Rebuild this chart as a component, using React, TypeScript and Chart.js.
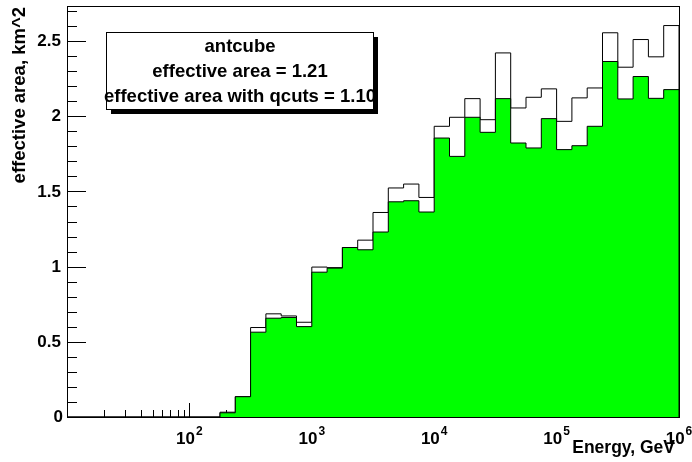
import React, { useEffect, useRef } from "react";
import { Chart, registerables } from "chart.js";

Chart.register(...registerables);

// bin edges (log10 of energy in GeV)
const LOG_EDGES = [
  2.25, 2.375, 2.5, 2.625, 2.75, 2.875, 3, 3.125, 3.25, 3.375, 3.5, 3.625, 3.75, 3.875,
  4, 4.125, 4.25, 4.375, 4.5, 4.625, 4.75, 4.875, 5, 5.125, 5.25, 5.375, 5.5, 5.625,
  5.75, 5.875, 6,
];

// effective area (km^2), all events
const TOTAL_AREA = [
  0.032, 0.135, 0.595, 0.686, 0.672, 0.63, 0.997, 0.993, 1.127, 1.176, 1.36, 1.523, 1.549,
  1.46, 1.933, 1.993, 2.117, 1.977, 2.421, 2.055, 2.126, 2.182, 1.966, 2.122, 2.188, 2.555,
  2.326, 2.51, 2.395, 2.603,
];

// effective area (km^2), with quality cuts
const QCUT_AREA = [
  0.028, 0.135, 0.564, 0.657, 0.662, 0.601, 0.963, 0.99, 1.127, 1.112, 1.23, 1.431, 1.438,
  1.363, 1.855, 1.733, 1.993, 1.893, 2.117, 1.822, 1.789, 1.984, 1.778, 1.804, 1.933, 2.364,
  2.115, 2.264, 2.119, 2.177,
];

const X_MIN = 10;
const X_MAX = 1e6;
const Y_MAX = 2.733;
const X_DECADES = [2, 3, 4, 5, 6];
const Y_MAJOR = [0, 0.5, 1, 1.5, 2, 2.5];
const Y_LABELS = ["0", "0.5", "1", "1.5", "2", "2.5"];
const Y_MINOR = [
  0.1, 0.2, 0.3, 0.4, 0.6, 0.7, 0.8, 0.9, 1.1, 1.2, 1.3, 1.4, 1.6, 1.7, 1.8, 1.9, 2.1, 2.2,
  2.3, 2.4, 2.6, 2.7,
];
const LEGEND_LINES = ["antcube", "effective area = 1.21", "effective area with qcuts = 1.10"];
const X_TITLE = "Energy, GeV";
const Y_TITLE = "effective area, km^2";

const FONT = '"Liberation Sans", Arial, sans-serif';

function histPoints(vals: number[]) {
  const pts: { x: number; y: number }[] = [{ x: X_MIN, y: 0 }];
  for (let i = 0; i < vals.length; i++) pts.push({ x: Math.pow(10, LOG_EDGES[i]), y: vals[i] });
  const last = vals[vals.length - 1];
  pts.push({ x: Math.pow(10, LOG_EDGES[LOG_EDGES.length - 1]), y: last });
  pts.push({ x: Math.pow(10, LOG_EDGES[LOG_EDGES.length - 1]), y: 0 });
  return pts;
}

const rootPlugin = {
  id: "rootStyle",
  beforeDatasetsDraw(chart: any) {
    const ctx = chart.ctx;
    const { left, bottom } = chart.chartArea;
    const xs = chart.scales.x;
    const ys = chart.scales.y;
    ctx.save();
    ctx.strokeStyle = "#000";
    ctx.lineWidth = 1;
    ctx.beginPath();
    // y ticks
    for (const v of Y_MAJOR) {
      const y = Math.round(ys.getPixelForValue(v)) + 0.5;
      ctx.moveTo(left, y);
      ctx.lineTo(left + 19, y);
    }
    for (const v of Y_MINOR) {
      const y = Math.round(ys.getPixelForValue(v)) + 0.5;
      ctx.moveTo(left, y);
      ctx.lineTo(left + 10, y);
    }
    // x ticks (log)
    for (let d = 1; d <= 5; d++) {
      for (let m = 2; m <= 10; m++) {
        const val = m * Math.pow(10, d);
        if (val >= X_MAX) continue;
        const x = Math.round(xs.getPixelForValue(val)) + 0.5;
        const len = m === 10 ? 14 : 7;
        ctx.moveTo(x, bottom);
        ctx.lineTo(x, bottom - len);
      }
    }
    ctx.stroke();
    ctx.restore();
  },
  afterDatasetsDraw(chart: any) {
    const ctx = chart.ctx;
    const { left, right, top, bottom } = chart.chartArea;
    ctx.save();
    ctx.strokeStyle = "#000";
    ctx.lineWidth = 1;
    ctx.strokeRect(left + 0.5, top + 0.5, right - left, bottom - top);
    ctx.restore();
  },
  afterDraw(chart: any) {
    const ctx = chart.ctx;
    const { left, bottom, right } = chart.chartArea;
    const xs = chart.scales.x;
    const ys = chart.scales.y;
    ctx.save();
    ctx.fillStyle = "#000";
    // y labels
    ctx.font = `bold 17px ${FONT}`;
    ctx.textAlign = "right";
    ctx.textBaseline = "middle";
    Y_MAJOR.forEach((v, i) => {
      const y = ys.getPixelForValue(v) + 0.5;
      const xr = v === 0 ? left - 4 : left - 6;
      ctx.fillText(Y_LABELS[i], xr, y);
    });
    // x labels 10^n
    ctx.textBaseline = "alphabetic";
    ctx.textAlign = "left";
    for (const d of X_DECADES) {
      const x = xs.getPixelForValue(Math.pow(10, d));
      ctx.font = `bold 17px ${FONT}`;
      const w1 = ctx.measureText("10").width;
      ctx.font = `bold 12px ${FONT}`;
      const w2 = ctx.measureText(String(d)).width;
      const total = w1 + 1 + w2;
      const x0 = x - total / 2;
      ctx.font = `bold 17px ${FONT}`;
      ctx.fillText("10", x0, 444);
      ctx.font = `bold 12px ${FONT}`;
      ctx.fillText(String(d), x0 + w1 + 1, 435);
    }
    // x title
    ctx.font = `bold 17.5px ${FONT}`;
    ctx.textAlign = "right";
    ctx.fillText(X_TITLE, right - 4, 453);
    // y title
    ctx.save();
    ctx.translate(25, 7);
    ctx.rotate(-Math.PI / 2);
    ctx.font = `bold 18.5px ${FONT}`;
    ctx.textAlign = "right";
    ctx.textBaseline = "alphabetic";
    ctx.fillText(Y_TITLE, 0, 0);
    ctx.restore();
    // legend box
    const bx = 106, by = 32, bw = 267, bh = 77;
    ctx.fillStyle = "#000";
    ctx.fillRect(bx + 5, by + 5, bw, bh);
    ctx.fillStyle = "#fff";
    ctx.fillRect(bx, by, bw, bh);
    ctx.strokeStyle = "#000";
    ctx.lineWidth = 1;
    ctx.strokeRect(bx + 0.5, by + 0.5, bw, bh);
    ctx.fillStyle = "#000";
    ctx.font = `bold 18.5px ${FONT}`;
    ctx.textAlign = "center";
    const cx = bx + bw / 2 + 0.5;
    LEGEND_LINES.forEach((t, i) => {
      ctx.fillText(t, cx, 52 + i * 25);
    });
    ctx.restore();
  },
};

export default function App() {
  const ref = useRef<HTMLCanvasElement | null>(null);
  useEffect(() => {
    if (!ref.current) return;
    const chart = new Chart(ref.current, {
      type: "line",
      data: {
        datasets: [
          {
            label: "with qcuts",
            data: histPoints(QCUT_AREA),
            stepped: true,
            borderColor: "#000",
            borderWidth: 1,
            backgroundColor: "#00ff00",
            fill: "origin",
            pointRadius: 0,
          },
          {
            label: "all",
            data: histPoints(TOTAL_AREA),
            stepped: true,
            borderColor: "#000",
            borderWidth: 1,
            backgroundColor: "#ffffff",
            fill: false,
            pointRadius: 0,
          },
        ],
      },
      options: {
        responsive: false,
        animation: false,
        parsing: true,
        layout: { padding: { left: 67, right: 13, top: 6, bottom: 45 } },
        scales: {
          x: { type: "logarithmic", min: X_MIN, max: X_MAX, display: false },
          y: { type: "linear", min: 0, max: Y_MAX, display: false },
        },
        plugins: { legend: { display: false }, tooltip: { enabled: false } },
      },
      plugins: [rootPlugin],
    });
    return () => chart.destroy();
  }, []);
  return (
    <div style={{ position: "fixed", left: 0, top: 0, width: 692, height: 462, background: "#fff" }}>
      <canvas ref={ref} width={692} height={462} style={{ width: 692, height: 462, display: "block" }} />
    </div>
  );
}
